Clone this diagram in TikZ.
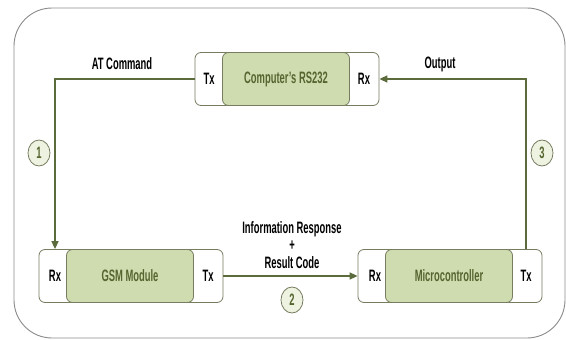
\documentclass[tikz,border=0pt]{standalone}
\usepackage{fontspec}
\setmainfont{Liberation Sans}[FakeStretch=0.57]
\usetikzlibrary{arrows.meta,shapes.geometric}
\definecolor{linegreen}{HTML}{5B6B3C}
\definecolor{boxgreen}{HTML}{CFDCB0}
\definecolor{boxedge}{HTML}{767C60}
\definecolor{textgreen}{HTML}{55652F}
\definecolor{stepfill}{HTML}{EEF3E1}
\definecolor{framegray}{HTML}{8A8A8A}
\tikzstyle{unit}=[rectangle, rounded corners=6pt, draw=boxedge, fill=white, line width=0.8pt, minimum width=184pt, minimum height=53pt]
\tikzstyle{core}=[rectangle, rounded corners=6pt, draw=boxedge, fill=boxgreen, line width=0.8pt, minimum width=127pt, minimum height=53pt, text=textgreen]
\tikzstyle{port}=[inner sep=0pt]
\tikzstyle{stepnum}=[ellipse, draw=boxedge, fill=stepfill, line width=0.8pt, minimum width=22pt, minimum height=26pt, inner sep=0pt, text=textgreen]
\tikzstyle{link}=[draw=linegreen, line width=1.5pt, -{Triangle[length=8pt,width=7pt]}]
\newcommand{\unit}{\node[unit]}
\newcommand{\core}{\node[core]}
\begin{document}
\begin{tikzpicture}[x=1pt, y=-1pt, font=\fontsize{16.5}{18}\selectfont\bfseries]
            \useasboundingbox (0,0) rectangle (566,340);
            \draw[framegray, line width=0.9pt, rounded corners=38pt] (14,8) rectangle (565,338);
            % computer
            \unit (rsbox) at (287,79){};
            \core (rs) at (286,79){Computer's RS232};
            \node[port] (rstx) at (209,79){Tx};
            \node[port] (rsrx) at (364,79){Rx};
            % gsm
            \unit (gsmbox) at (131,276){};
            \core (gsm) at (130,276){GSM Module};
            \node[port] (gsmrx) at (55,276){Rx};
            \node[port] (gsmtx) at (208,276){Tx};
            % micro
            \unit (mcbox) at (450,276){};
            \core (mc) at (449,276){Microcontroller};
            \node[port] (mcrx) at (375,276){Rx};
            \node[port] (mctx) at (526,276){Tx};
            % steps
            \node[stepnum] (s1) at (39,153){1};
            \node[stepnum] (s2) at (292,300){2};
            \node[stepnum] (s3) at (542,153){3};
            % labels
            \node (atcmd) at (122,64){AT Command};
            \node (out) at (440,64){Output};
            \node[align=center, font=\fontsize{16.5}{17.5}\selectfont\bfseries] (resp) at (292,245){Information Response\\+\\Result Code};
            \draw[link] (rsbox.west) -| (gsmbox.north -| gsmrx);
            \draw[link] (gsmbox.east) -- (mcbox.west);
            \draw[link] (mcbox.north -| mctx) |- (rsbox.east);
        \end{tikzpicture}
\end{document}
